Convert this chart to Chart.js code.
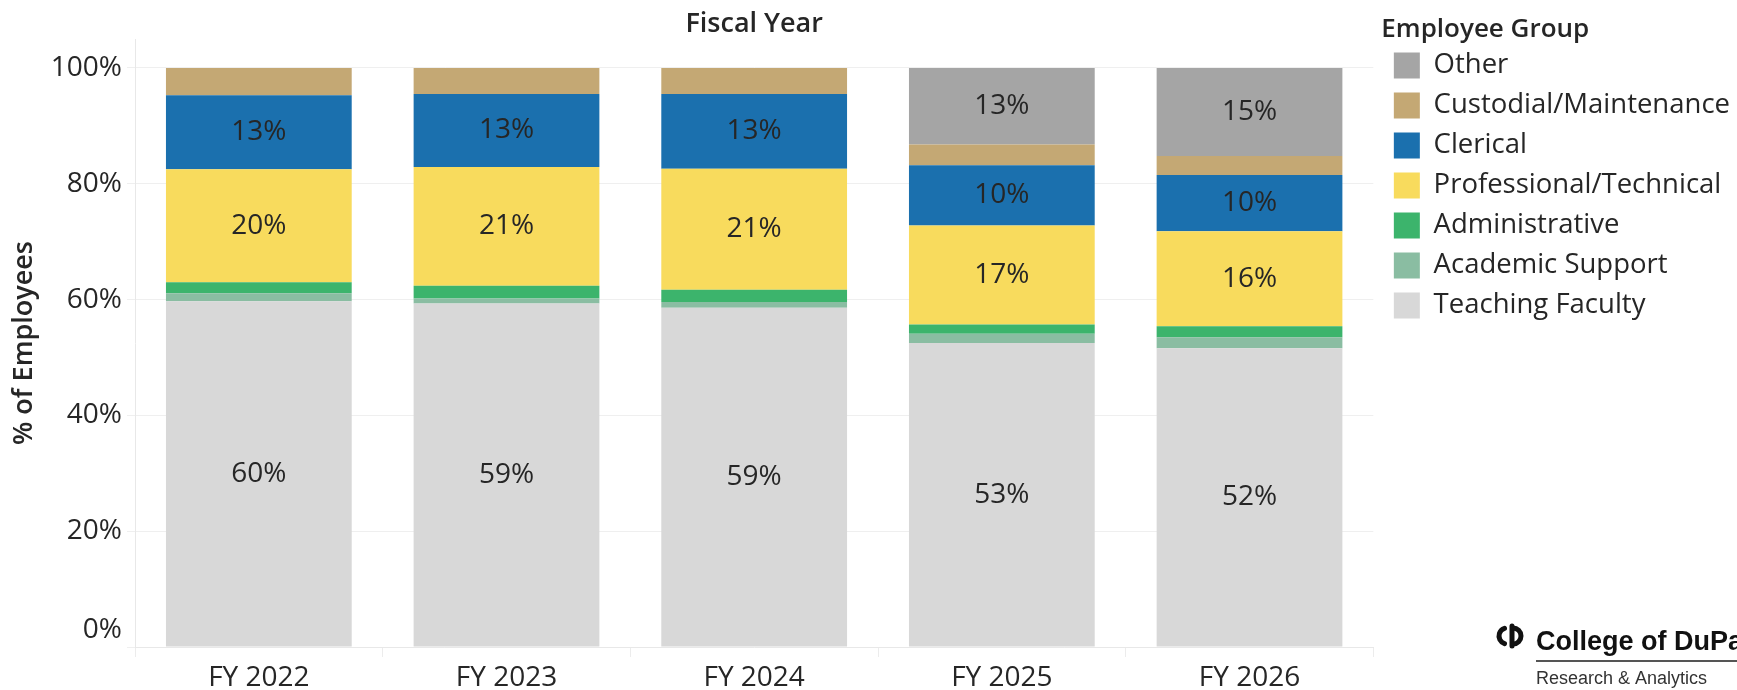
<!DOCTYPE html>
<html>
<head>
<meta charset="utf-8">
<script src="https://cdn.jsdelivr.net/npm/chart.js@4/dist/chart.umd.min.js"></script>
<style>
  html, body { margin: 0; padding: 0; background: #fff; }
  #wrap { width: 1737px; height: 690px; }
</style>
</head>
<body>
<div id="wrap"><canvas id="staffChart" width="1737" height="690"></canvas></div>
<script>
// share of employees by group, per fiscal year (percent)
const years = ['FY 2022', 'FY 2023', 'FY 2024', 'FY 2025', 'FY 2026'];
const teachingFaculty = [59.7, 59.3, 58.6, 52.5, 51.6];
const academicSupport = [1.4, 0.9, 1.0, 1.6, 1.9];
const administrative = [1.9, 2.2, 2.1, 1.6, 1.9];
const professionalTechnical = [19.5, 20.5, 20.9, 17.1, 16.4];
const clerical = [12.8, 12.6, 12.9, 10.4, 9.7];
const custodialMaintenance = [4.7, 4.5, 4.5, 3.6, 3.3];
const other = [0, 0, 0, 13.2, 15.2];
const yTicks = [0, 20, 40, 60, 80, 100];

const textColor = '#262626';
const fontFace = '"Open Sans", sans-serif';

// stacked bottom to top
const groups = [
    { label: 'Teaching Faculty', data: teachingFaculty, color: '#d8d8d8' },
    { label: 'Academic Support', data: academicSupport, color: '#8abda2' },
    { label: 'Administrative', data: administrative, color: '#3cb46c' },
    { label: 'Professional/Technical', data: professionalTechnical, color: '#f8db5d' },
    { label: 'Clerical', data: clerical, color: '#1b70ae' },
    { label: 'Custodial/Maintenance', data: custodialMaintenance, color: '#c4a874' },
    { label: 'Other', data: other, color: '#a5a5a5' }
];

// percent labels on the larger segments
const segmentLabels = {
    id: 'segmentLabels',
    afterDatasetsDraw(chart) {
        const ctx = chart.ctx;
        ctx.save();
        ctx.font = '28px ' + fontFace;
        ctx.fillStyle = textColor;
        ctx.textAlign = 'center';
        ctx.textBaseline = 'middle';
        chart.data.datasets.forEach((ds, i) => {
            const meta = chart.getDatasetMeta(i);
            meta.data.forEach((bar, j) => {
                const v = ds.data[j];
                if (v < 9.5) return;
                ctx.fillText(Math.round(v) + '%', bar.x, (bar.y + bar.base) / 2);
            });
        });
        ctx.restore();
    }
};

// extra room between the plot and the legend, title indented a bit
const LEGEND_GAP = 5;
const LEGEND_SHIFT = 3;
const TITLE_INDENT = 11;
const legendGap = {
    id: 'legendGap',
    afterInit(chart) {
        const legend = chart.legend;
        const fit = legend.fit;
        legend.fit = function () {
            fit.call(this);
            this.width += LEGEND_GAP;
        };
        const drawTitle = legend._drawTitle;
        legend._drawTitle = function () {
            this.left += TITLE_INDENT;
            drawTitle.call(this);
            this.left -= TITLE_INDENT;
        };
    },
    afterLayout(chart) {
        chart.legend.left += LEGEND_GAP + LEGEND_SHIFT;
        chart.legend.right += LEGEND_GAP + LEGEND_SHIFT;
    }
};

// college mark, bottom right
const collegeMark = {
    id: 'collegeMark',
    afterDraw(chart) {
        const ctx = chart.ctx;
        ctx.save();
        ctx.fillStyle = '#111';
        ctx.strokeStyle = '#111';
        ctx.lineWidth = 5;
        ctx.lineCap = 'round';
        ctx.beginPath();
        ctx.arc(1507, 636, 8, Math.PI * 0.6, Math.PI * 1.4);
        ctx.stroke();
        ctx.beginPath();
        ctx.moveTo(1512, 626);
        ctx.lineTo(1512, 646);
        ctx.stroke();
        ctx.beginPath();
        ctx.arc(1513, 636, 8, -Math.PI / 2, Math.PI / 2);
        ctx.stroke();
        ctx.font = 'bold 27px "Liberation Sans", Arial, sans-serif';
        ctx.textBaseline = 'alphabetic';
        ctx.fillText('College of DuPage', 1536, 650);
        ctx.fillStyle = '#555';
        ctx.fillRect(1536, 660, 220, 2);
        ctx.fillStyle = '#333';
        ctx.font = '18px "Liberation Sans", Arial, sans-serif';
        ctx.fillText('Research & Analytics', 1536, 684);
        ctx.restore();
    }
};

new Chart(document.getElementById('staffChart'), {
    type: 'bar',
    data: {
        labels: years,
        datasets: groups.map(g => ({
            label: g.label,
            data: g.data,
            backgroundColor: g.color,
            borderWidth: 0,
            categoryPercentage: 1,
            barPercentage: 0.75
        }))
    },
    options: {
        responsive: false,
        animation: false,
        layout: { padding: { left: 8, top: 0, bottom: 0, right: 0 } },
        plugins: {
            tooltip: { enabled: false },
            legend: {
                position: 'right',
                align: 'start',
                reverse: true,
                title: {
                    display: true,
                    text: 'Employee Group',
                    position: 'start',
                    color: textColor,
                    font: { family: fontFace, size: 26, weight: '600' },
                    padding: { top: 17, bottom: -9 }
                },
                labels: {
                    boxWidth: 26,
                    boxHeight: 26,
                    padding: 12.5,
                    color: textColor,
                    font: { family: fontFace, size: 27.5 }
                }
            }
        },
        scales: {
            x: {
                stacked: true,
                afterFit(scale) { scale.height = 43; },
                grid: {
                    display: true,
                    drawOnChartArea: false,
                    offset: true,
                    tickLength: 10,
                    color: '#ececec'
                },
                border: { color: '#e8e8e8' },
                ticks: {
                    color: textColor,
                    font: { family: fontFace, size: 28 },
                    padding: 4
                }
            },
            xTop: {
                type: 'category',
                labels: years,
                position: 'top',
                afterFit(scale) { scale.height = 39; },
                grid: { display: false },
                border: { display: false },
                ticks: { display: false },
                title: {
                    display: true,
                    text: 'Fiscal Year',
                    color: textColor,
                    font: { family: fontFace, size: 27, weight: '600' },
                    padding: { top: 8, bottom: 0 }
                }
            },
            y: {
                stacked: true,
                min: 0,
                max: 105,
                afterFit(scale) { scale.width = 127; },
                afterBuildTicks(scale) {
                    scale.ticks = yTicks.map(v => ({ value: v }));
                },
                grid: { color: '#efefef', tickLength: 8 },
                border: { color: '#e8e8e8' },
                ticks: {
                    color: textColor,
                    font: { family: fontFace, size: 28 },
                    padding: 5,
                    // the 0% label sits just above the baseline
                    callback: v => v === 0 ? ['0%', ''] : v + '%'
                },
                title: {
                    display: true,
                    text: '% of Employees',
                    color: textColor,
                    font: { family: fontFace, size: 27, weight: '600' },
                    padding: { top: 0, bottom: 7 }
                }
            }
        }
    },
    plugins: [segmentLabels, legendGap, collegeMark]
});
</script>
</body>
</html>
